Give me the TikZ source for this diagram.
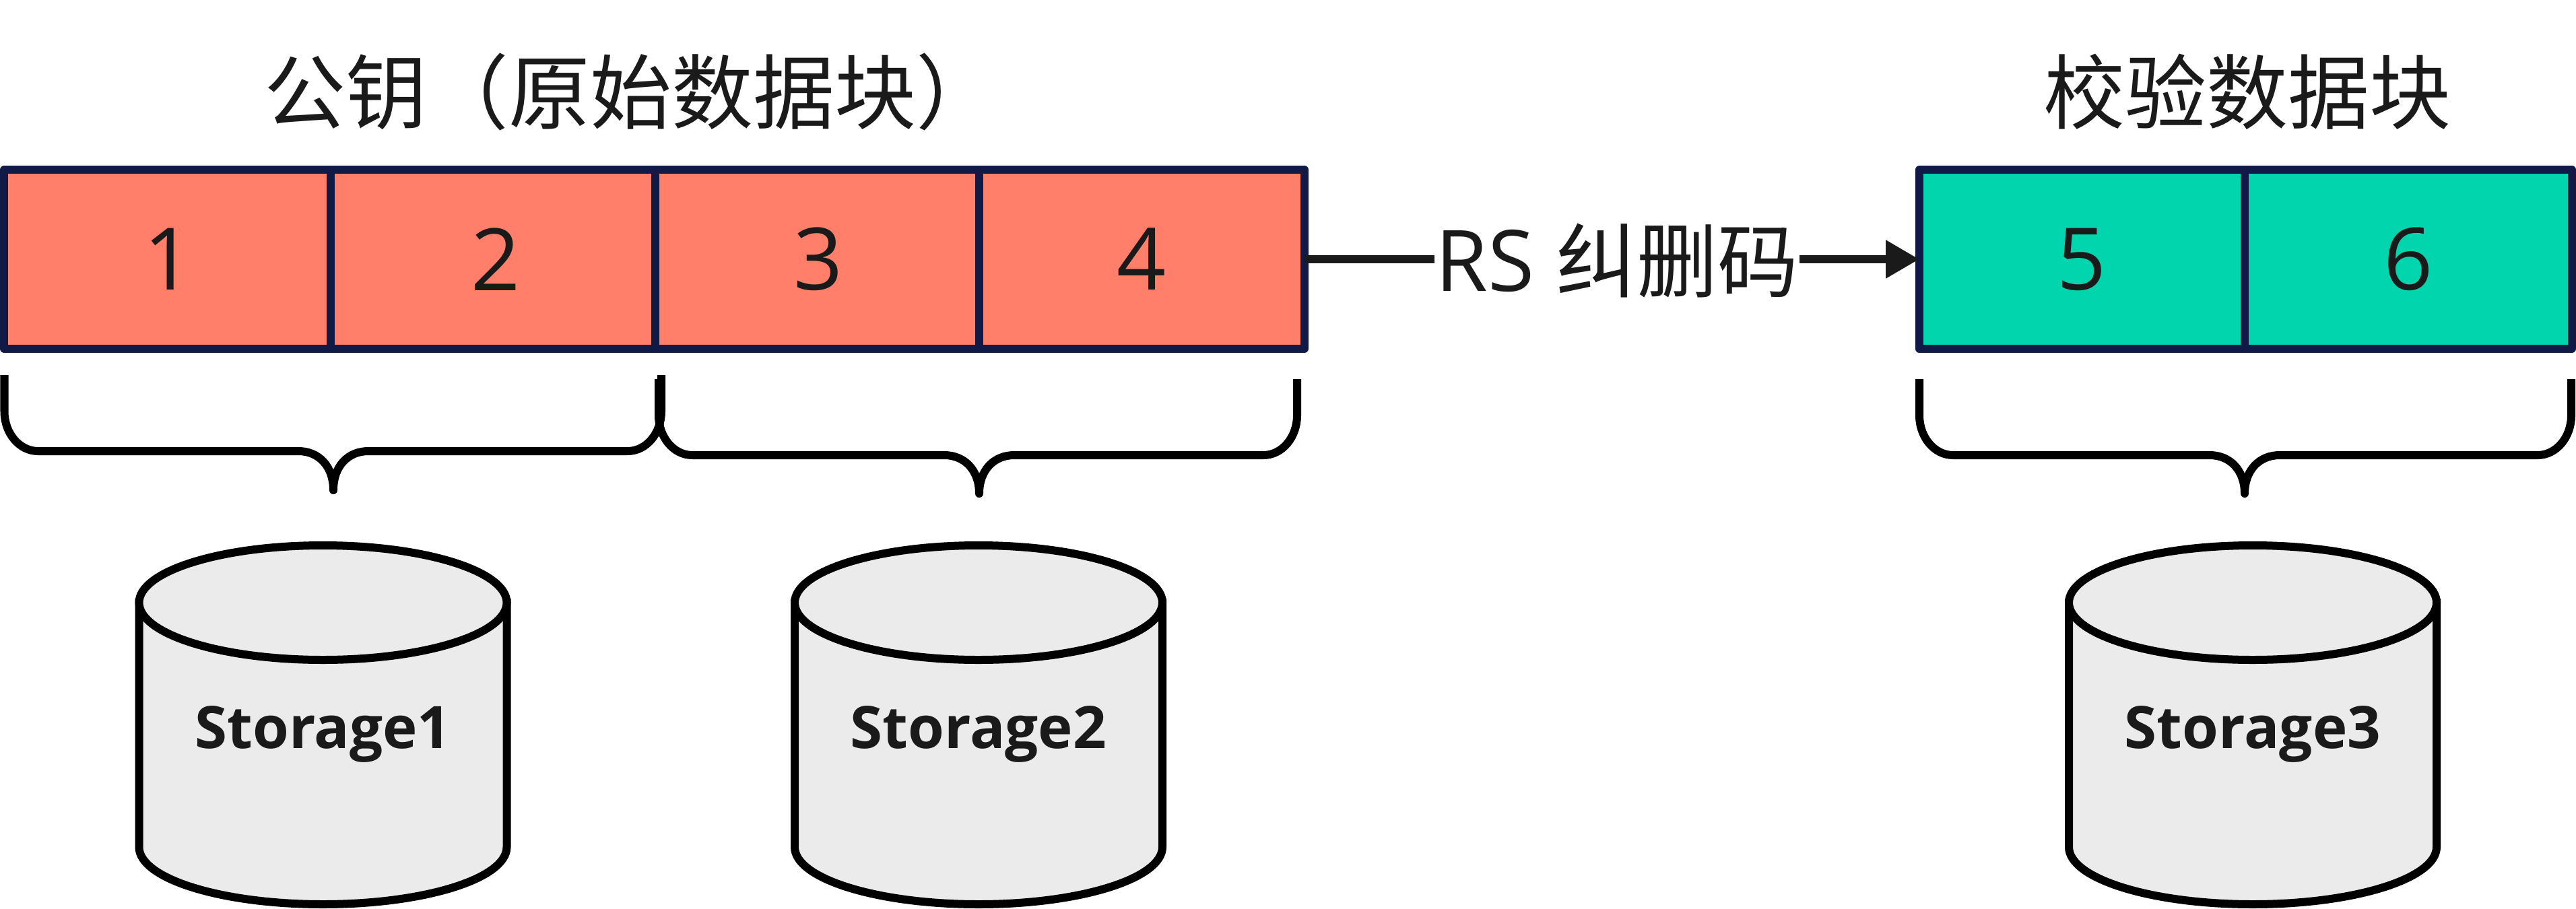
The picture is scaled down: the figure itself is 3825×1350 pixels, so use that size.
\documentclass[tikz,border=0pt]{standalone}
\usepackage{fontspec}
\setmainfont{Open Sans}
\newfontfamily\cjk{Noto Sans CJK SC}
\definecolor{navy}{HTML}{111A47}
\definecolor{salmon}{HTML}{FF7F6A}
\definecolor{mint}{HTML}{00D5AE}
\definecolor{ink}{HTML}{1A1A1A}
\definecolor{drum}{HTML}{EBEBEB}
\usetikzlibrary{arrows.meta}
\tikzset{
  cell/.style={draw=navy,line width=3pt,line join=round,minimum height=66.5pt,inner sep=0pt,outer sep=0pt,text=ink,font=\fontsize{32}{32}\selectfont},
  redcell/.style={cell,fill=salmon},
  greencell/.style={cell,fill=mint},
  title/.style={anchor=base,inner sep=0pt,text=ink,font=\cjk\fontsize{30.25}{30.25}\selectfont},
  rslabel/.style={anchor=base,inner sep=0pt,text=ink,minimum width=134.25pt,font=\fontsize{31.5}{31.5}\selectfont},
  link/.style={line width=3pt,draw=ink},
  brace/.style={line width=3pt,draw=black,line join=round},
  drumbody/.style={line width=3pt,draw=black,fill=drum},
  drumlabel/.style={anchor=base,inner sep=0pt,text=ink,font=\bfseries\fontsize{21.75}{21.75}\selectfont}
}
\newcommand{\drumshape}[3]{%
  \filldraw[drumbody] (#1-273,895) -- (#1-273,1258) arc[start angle=180,end angle=360,x radius=68.25pt,y radius=21.25pt] -- (#1+273,895) -- cycle;
  \filldraw[drumbody] (#1,895) ellipse[x radius=68.25pt,y radius=21.25pt];
  \node[drumlabel] (#3) at (#1,1111.5) {#2};
}
% left x, right x, centre x, horizontal y, top y, tip y
\newcommand{\braceshape}[6]{%
  \draw[brace] (#1,#5) -- (#1,#4-59) .. controls (#1,#4-27) and (#1+22,#4) .. (#1+50,#4)
    -- (#3-52,#4) .. controls (#3-22,#4) and (#3,#4+22) .. (#3,#6-4)
    .. controls (#3,#4+22) and (#3+22,#4) .. (#3+52,#4)
    -- (#2-50,#4) .. controls (#2-22,#4) and (#2,#4-27) .. (#2,#4-59) -- (#2,#5);
}
\begin{document}
\begin{tikzpicture}[x=0.25pt,y=-0.25pt]
\useasboundingbox (0,0) rectangle (3825,1350);
\node[redcell,minimum width=121.25pt] (c1) at (248.5,385) {\kern1pt 1};
\node[redcell,minimum width=120.5pt] (c2) at (732,385) {\kern2pt 2};
\node[redcell,minimum width=120.25pt] (c3) at (1213.5,385) {\kern1pt 3};
\node[redcell,minimum width=120.75pt] (c4) at (1695.5,385) {4};
\node[greencell,minimum width=120.75pt] (c5) at (3091.5,385) {5};
\node[greencell,minimum width=121.5pt] (c6) at (3576,385) {6};
\node[title] (t1) at (937,182) {公钥（原始数据块）};
\node[title] (t2) at (3337,182) {校验数据块};
\node[rslabel] (rs) at (2401,432.5) {RS {\cjk\fontsize{30}{30}\selectfont 纠删码}};
\draw[link] (c4.east) -- (c4.east -| rs.west);
\draw[link,-{Triangle[length=12.5pt,width=13.5pt]}] (c5.west -| rs.east) -- (c5.west);
\braceshape{6.5}{982}{495}{670}{557}{732}
\braceshape{978}{1926}{1454}{676}{563}{737}
\braceshape{2850}{3818}{3333}{676}{563}{737}
\drumshape{479.5}{Storage1}{s1}
\drumshape{1453}{Storage2}{s2}
\drumshape{3345}{Storage3}{s3}
\end{tikzpicture}
\end{document}
